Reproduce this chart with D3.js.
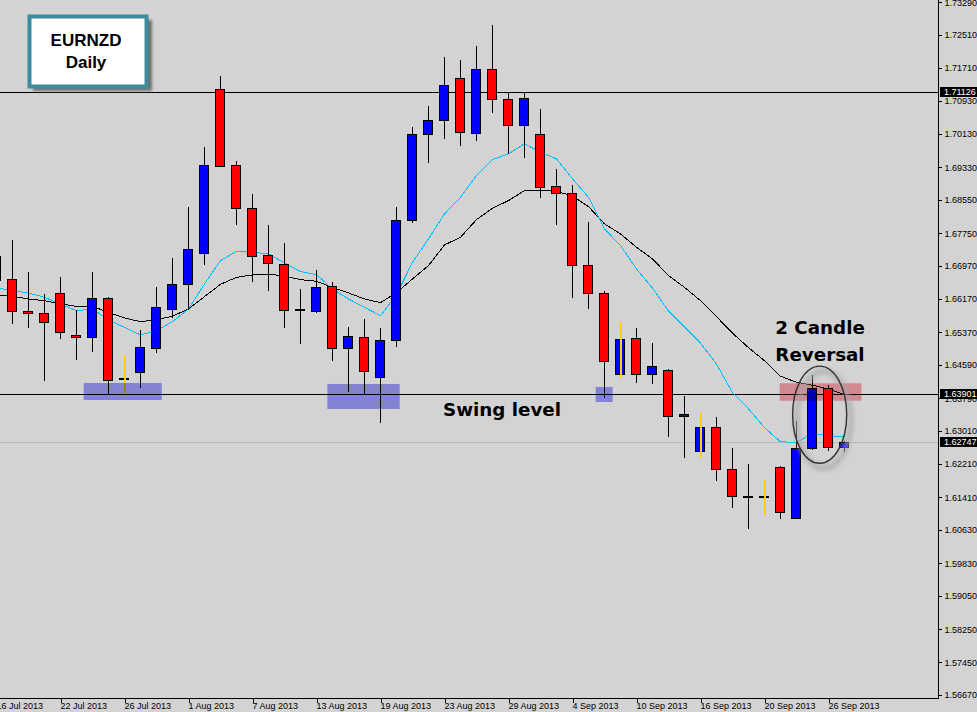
<!DOCTYPE html>
<html><head><meta charset="utf-8">
<script src="https://cdn.jsdelivr.net/npm/d3@7"></script>
<style>html,body{margin:0;padding:0;background:#d3d3d3;overflow:hidden}</style>
</head><body><svg id="c" width="977" height="712"></svg>
<script>
// ---------- DATA ----------
const dates = ["2013-07-16","2013-07-17","2013-07-18","2013-07-19","2013-07-22","2013-07-23","2013-07-24","2013-07-25","2013-07-26","2013-07-29","2013-07-30","2013-07-31",
"2013-08-01","2013-08-02","2013-08-05","2013-08-06","2013-08-07","2013-08-08","2013-08-09","2013-08-12","2013-08-13","2013-08-14","2013-08-15","2013-08-16","2013-08-19","2013-08-20","2013-08-21","2013-08-22","2013-08-23","2013-08-26","2013-08-27","2013-08-28","2013-08-29","2013-08-30",
"2013-09-02","2013-09-03","2013-09-04","2013-09-05","2013-09-06","2013-09-09","2013-09-10","2013-09-11","2013-09-12","2013-09-13","2013-09-16","2013-09-17","2013-09-18","2013-09-19","2013-09-20","2013-09-23","2013-09-24","2013-09-25","2013-09-26","2013-09-27"];
const open  = [1.67211,1.66651,1.65890,1.65835,1.66315,1.65307,1.65259,1.66195,1.64265,1.64418,1.64995,1.65931,1.66531,1.67276,1.71214,1.69389,1.68356,1.67228,1.67012,1.65922,1.65883,1.66483,1.64995,1.65259,1.64298,1.65187,1.68068,1.70133,1.70469,1.71478,1.70157,1.71694,1.70973,1.70349,1.70133,1.68884,1.68716,1.66988,1.66315,1.64370,1.65235,1.64370,1.64466,1.63362,1.62521,1.63098,1.62089,1.61448,1.61455,1.62150,1.60927,1.62594,1.64034,1.62618];
const high  = [1.67379,1.67595,1.66827,1.66291,1.66707,1.65914,1.66827,1.66226,1.64834,1.65434,1.66466,1.67163,1.68387,1.69821,1.71509,1.69492,1.68692,1.67955,1.67516,1.66411,1.66868,1.66570,1.65506,1.65698,1.65482,1.68387,1.70308,1.70788,1.71965,1.71893,1.72229,1.72733,1.71118,1.71141,1.70733,1.69292,1.68908,1.68027,1.66363,1.65619,1.65475,1.65115,1.64498,1.63849,1.63434,1.63338,1.62594,1.62209,1.61832,1.62161,1.63249,1.64354,1.64113,1.62760];
const low   = [1.66322,1.65585,1.65489,1.64217,1.65225,1.64721,1.64913,1.63904,1.63929,1.64049,1.64889,1.65729,1.65931,1.67012,1.69350,1.67962,1.66594,1.66378,1.65489,1.65105,1.65849,1.64706,1.63953,1.63890,1.63208,1.65050,1.68010,1.69451,1.70027,1.69859,1.69980,1.70652,1.69667,1.69571,1.68611,1.67962,1.66210,1.65946,1.63808,1.64289,1.64169,1.64145,1.62872,1.62368,1.62377,1.61825,1.61177,1.60673,1.61023,1.60913,1.60910,1.62580,1.62545,1.62521];
const close = [1.66635,1.65883,1.65835,1.65619,1.65379,1.65259,1.66195,1.64226,1.64265,1.65019,1.65979,1.66531,1.67372,1.69389,1.69365,1.68356,1.67204,1.67036,1.65907,1.65922,1.66459,1.64995,1.65283,1.64442,1.65187,1.68068,1.70133,1.70469,1.71310,1.70181,1.71694,1.70973,1.70349,1.70997,1.68860,1.68716,1.66988,1.66315,1.64683,1.65211,1.64370,1.64562,1.63362,1.63410,1.63098,1.62089,1.61441,1.61448,1.61455,1.61057,1.62594,1.64034,1.62618,1.62747];
// bars whose wick is drawn in the "marked" colour
const markedBars = ["2013-07-26","2013-09-09","2013-09-16","2013-09-20"];
const maFast = [1.66435,1.66370,1.66315,1.66210,1.66051,1.65890,1.65931,1.65667,1.65489,1.65307,1.65410,1.65626,1.65931,1.66531,1.67091,1.67314,1.67290,1.67252,1.67035,1.66827,1.66755,1.66411,1.66171,1.65969,1.65770,1.66274,1.67050,1.67612,1.68212,1.68611,1.69132,1.69516,1.69653,1.69893,1.69691,1.69533,1.69052,1.68611,1.67852,1.67451,1.66892,1.66430,1.65878,1.65494,1.65110,1.64610,1.63921,1.63537,1.63081,1.62745,1.62728,1.62944,1.62889,1.62865];
const maSlow = [1.66267,1.66234,1.66171,1.66130,1.66051,1.65994,1.65994,1.65849,1.65715,1.65626,1.65674,1.65758,1.65931,1.66226,1.66522,1.66690,1.66747,1.66771,1.66714,1.66635,1.66594,1.66450,1.66315,1.66171,1.66082,1.66322,1.66651,1.66971,1.67468,1.67650,1.68075,1.68347,1.68531,1.68772,1.68772,1.68755,1.68639,1.68387,1.67972,1.67732,1.67410,1.67132,1.66731,1.66450,1.66130,1.65746,1.65350,1.65002,1.64690,1.64318,1.64173,1.64101,1.64005,1.63878];
const yTicks = [1.73290,1.72510,1.71710,1.70930,1.70130,1.69330,1.68550,1.67750,1.66970,1.66170,1.65370,1.64590,1.63790,1.63010,1.62210,1.61410,1.60630,1.59830,1.59050,1.58250,1.57450,1.56670];
const xTickDates  = ["2013-07-16","2013-07-22","2013-07-26","2013-08-01","2013-08-07","2013-08-13","2013-08-19","2013-08-23","2013-08-29","2013-09-04","2013-09-10","2013-09-16","2013-09-20","2013-09-26"];
const xTickLabels = ["16 Jul 2013","22 Jul 2013","26 Jul 2013","1 Aug 2013","7 Aug 2013","13 Aug 2013","19 Aug 2013","23 Aug 2013","29 Aug 2013","4 Sep 2013","10 Sep 2013","16 Sep 2013","20 Sep 2013","26 Sep 2013"];
const levelPrices = [1.71126, 1.63901];
const currentPrice = 1.62747;
// zones: [start bar (fractional), end bar, top price, bottom price]
const swingZones = [[5.48,10.36,1.64155,1.63747],[20.71,25.23,1.64131,1.63531],[37.48,38.54,1.64059,1.63699]];
const reversalZone = [48.98,54.09,1.64148,1.63730];
const reversalRing = {bar:51.48, price:1.63394, barHalf:1.69, priceHalf:0.01165};
const title = ["EURNZD","Daily"];
const noteReversal = ["2 Candle","Reversal"];
const noteSwing = "Swing level";

// ---------- CHART ----------
const plotRight = 938, plotBottom = 698;
const svg = d3.select("#c");
const defs = svg.append("defs");
defs.append("clipPath").attr("id","plot").append("rect").attr("x",0).attr("y",0).attr("width",plotRight).attr("height",plotBottom);
const blurF = defs.append("filter").attr("id","blur").attr("x","-20%").attr("y","-20%").attr("width","140%").attr("height","140%");
blurF.append("feGaussianBlur").attr("stdDeviation",1.8);
const blurR = defs.append("filter").attr("id","blur2").attr("x","-30%").attr("y","-30%").attr("width","160%").attr("height","160%");
blurR.append("feGaussianBlur").attr("stdDeviation",2.5);

svg.append("rect").attr("width",977).attr("height",712).attr("fill","#d3d3d3");

const idx = new Map(dates.map((d,i)=>[d,i]));
const x = d3.scaleLinear().domain([0, dates.length-1]).range([-4, -4 + 16*(dates.length-1)]);
const y = d3.scaleLinear().domain([1.5667, 1.7329]).range([695, 2.2]);
const bars = dates.map((d,i)=>({d,i,o:open[i],h:high[i],l:low[i],c:close[i],marked:markedBars.includes(d)}));

const g = svg.append("g").attr("clip-path","url(#plot)");
// backdrop inside the clipped group so the multiply overlays blend with it
g.append("rect").attr("width",plotRight).attr("height",plotBottom).attr("fill","#d3d3d3");

// current price line
g.append("line").attr("x1",0).attr("x2",plotRight).attr("y1",Math.round(y(currentPrice))+0.5).attr("y2",Math.round(y(currentPrice))+0.5)
 .attr("stroke","#b9b9b9").attr("stroke-width",1);
// horizontal levels
g.selectAll("line.lvl").data(levelPrices).join("line").attr("class","lvl")
 .attr("x1",0).attr("x2",plotRight).attr("y1",d=>Math.round(y(d))+0.5).attr("y2",d=>Math.round(y(d))+0.5)
 .attr("stroke","#000").attr("stroke-width",1);

// moving averages
const line = (arr)=>d3.line().x((v,i)=>x(i)+0.5).y(v=>y(v))(arr);
g.append("path").attr("d",line(maSlow)).attr("fill","none").attr("stroke","#000").attr("stroke-width",1).attr("shape-rendering","crispEdges");
g.append("path").attr("d",line(maFast)).attr("fill","none").attr("stroke","#00bfff").attr("stroke-width",1).attr("shape-rendering","crispEdges");

// candles
const cg = g.append("g").attr("shape-rendering","crispEdges");
bars.forEach(b=>{
  const cx = Math.round(x(b.i));
  const top = Math.round(y(Math.max(b.o,b.c))), bot = Math.round(y(Math.min(b.o,b.c)));
  const wick = ()=>cg.append("line").attr("x1",cx+0.5).attr("x2",cx+0.5)
     .attr("y1",Math.round(y(b.h))).attr("y2",Math.round(y(b.l))+1)
     .attr("stroke", b.marked ? "#ffd200" : "#000").attr("stroke-width", b.marked ? 2 : 1);
  if(!b.marked) wick();
  cg.append("rect").attr("x",cx-4.5).attr("y",top+0.5).attr("width",9).attr("height",Math.max(1,bot-top))
    .attr("fill", b.c>b.o ? "#0000ff" : (b.c<b.o ? "#ff0000" : "#000")).attr("stroke","#000").attr("stroke-width",1);
  if(b.marked) wick();
});

// swing zones (multiply overlay)
g.selectAll("rect.zone").data(swingZones).join("rect").attr("class","zone")
 .attr("x",d=>x(d[0])).attr("width",d=>x(d[1])-x(d[0]))
 .attr("y",d=>y(d[2])).attr("height",d=>y(d[3])-y(d[2]))
 .attr("fill","#9e9eff").style("mix-blend-mode","multiply");
g.append("rect").attr("x",x(reversalZone[0])).attr("width",x(reversalZone[1])-x(reversalZone[0]))
 .attr("y",y(reversalZone[2])).attr("height",y(reversalZone[3])-y(reversalZone[2]))
 .attr("fill","#ffa3ad").style("mix-blend-mode","multiply");

// reversal ring
const rcx = x(reversalRing.bar), rcy = y(reversalRing.price);
const rrx = x(reversalRing.bar+reversalRing.barHalf)-rcx, rry = y(reversalRing.price-reversalRing.priceHalf)-rcy;
g.append("ellipse").attr("cx",rcx+4).attr("cy",rcy+5).attr("rx",rrx).attr("ry",rry)
 .attr("fill","none").attr("stroke","#a8a8a8").attr("stroke-width",5).attr("filter","url(#blur2)").attr("opacity",0.8);
g.append("ellipse").attr("cx",rcx).attr("cy",rcy).attr("rx",rrx).attr("ry",rry)
 .attr("fill","none").attr("stroke","#333").attr("stroke-width",1.4);

// annotations
const noteFont = "'DejaVu Sans', Verdana, sans-serif";
svg.append("text").attr("x",443).attr("y",415.5).attr("font-family",noteFont).attr("font-weight","bold")
 .attr("font-size","18.3px").attr("fill","#000").text(noteSwing);
svg.selectAll("text.rev").data(noteReversal).join("text").attr("class","rev")
 .attr("x",820).attr("y",(d,i)=>334+i*27).attr("text-anchor","middle").attr("font-family",noteFont)
 .attr("font-weight","bold").attr("font-size","18.3px").attr("fill","#000").text(d=>d);

// title box
svg.append("rect").attr("x",33).attr("y",20).attr("width",119).attr("height",71).attr("fill","#6e6e6e").attr("filter","url(#blur)");
svg.append("rect").attr("x",29.5).attr("y",16.5).attr("width",117).attr("height",70)
 .attr("fill","#fff").attr("stroke","#3c8b9e").attr("stroke-width",4);
svg.selectAll("text.title").data(title).join("text").attr("class","title")
 .attr("x",86).attr("y",(d,i)=>46+i*22.3).attr("text-anchor","middle")
 .attr("font-family","'Liberation Sans', Arial, sans-serif").attr("font-weight","bold").attr("font-size","17px").attr("fill","#000").text(d=>d);

// axes
const axFont = "'Liberation Sans', Arial, sans-serif";
const yAxis = svg.append("g").attr("transform",`translate(${plotRight+0.5},0)`)
 .call(d3.axisRight(y).tickValues(yTicks).tickSize(3).tickSizeOuter(0).tickPadding(3).tickFormat(d3.format(".5f")));
yAxis.select(".domain").remove();
yAxis.selectAll("text").attr("font-family",axFont).attr("font-size","9px").attr("fill","#000");
yAxis.selectAll("line").attr("stroke","#000").attr("shape-rendering","crispEdges");
svg.append("line").attr("x1",plotRight+0.5).attr("x2",plotRight+0.5).attr("y1",0).attr("y2",plotBottom+1).attr("stroke","#000");

const xAxis = svg.append("g").attr("transform",`translate(0,${plotBottom+0.5})`)
 .call(d3.axisBottom(x).tickValues(xTickDates.map(d=>idx.get(d))).tickSize(4).tickSizeOuter(0)
   .tickFormat((v,i)=>xTickLabels[i]));
xAxis.select(".domain").remove();
xAxis.selectAll(".tick line").attr("stroke","#000").attr("transform","translate(0.5,0)").attr("shape-rendering","crispEdges");
xAxis.selectAll("text").attr("text-anchor","start").attr("x",0).attr("y",4).attr("dy","0.75em")
 .attr("font-family",axFont).attr("font-size","9px").attr("fill","#000");
svg.append("line").attr("x1",0).attr("x2",plotRight+1).attr("y1",plotBottom+0.5).attr("y2",plotBottom+0.5).attr("stroke","#000");

// price tags
const tags = [levelPrices[0], levelPrices[1], currentPrice];
const tg = svg.selectAll("g.tag").data(tags).join("g").attr("class","tag")
 .attr("transform",d=>`translate(${plotRight+2},${Math.round(y(d))})`);
tg.append("rect").attr("x",0).attr("y",-5).attr("width",40).attr("height",10).attr("fill","#000");
tg.append("text").attr("x",4).attr("y",0).attr("dy","0.35em").attr("font-family",axFont).attr("font-size","9px")
 .attr("fill","#fff").text(d=>d3.format(".5f")(d));
</script></body></html>
